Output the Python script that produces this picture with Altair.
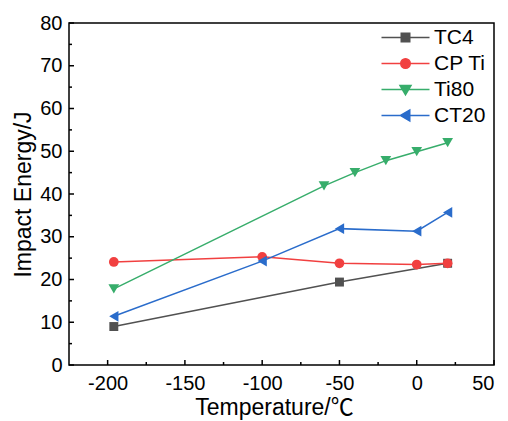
import altair as alt
import pandas as pd

# ---------------- data ----------------
series_names = ["TC4", "CP Ti", "Ti80", "CT20"]
series_colors = ["#515151", "#F14040", "#37AD6B", "#2A6CCB"]
series_shapes = ["square", "circle", "triangle-down", "triangle-left"]
series_sizes = [80, 95, 115, 115]

tc4_temp = [-196, -50, 20]
tc4_energy = [9.0, 19.4, 23.8]

cpti_temp = [-196, -100, -50, 0, 20]
cpti_energy = [24.1, 25.3, 23.8, 23.5, 23.8]

ti80_temp = [-196, -60, -40, -20, 0, 20]
ti80_energy = [17.8, 41.9, 45.0, 47.8, 49.9, 52.0]

ct20_temp = [-196, -100, -50, 0, 20]
ct20_energy = [11.4, 24.3, 31.9, 31.3, 35.7]

x_major_ticks = [-200, -150, -100, -50, 0, 50]
x_minor_ticks = [-175, -125, -75, -25, 25]
y_major_ticks = [0, 10, 20, 30, 40, 50, 60, 70, 80]
y_minor_ticks = [5, 15, 25, 35, 45, 55, 65, 75]

x_title = "Temperature/℃"
y_title = "Impact Energy/J"

# legend glyphs: a horizontal line with the marker in its middle
# (symbol size 100 -> 1 path unit = 5 px)
legend_paths = [
    "M-4.8,0H4.8M-0.85,-0.85H0.85V0.85H-0.85Z",
    "M-4.8,0H4.8M-0.95,0A0.95,0.95,0,1,1,0.95,0A0.95,0.95,0,1,1,-0.95,0Z",
    "M-4.8,0H4.8M-1.1,-0.8H1.1L0,1.05Z",
    "M-4.8,0H4.8M-1.0,0L0.85,-1.1V1.1Z",
]

rows = []
for name, ts, es in zip(series_names,
                        [tc4_temp, cpti_temp, ti80_temp, ct20_temp],
                        [tc4_energy, cpti_energy, ti80_energy, ct20_energy]):
    for t, e in zip(ts, es):
        rows.append({"series": name, "T": t, "E": e})
df = pd.DataFrame(rows)

# ---------------- chart ----------------
W, H = 425, 342
FONT = "Liberation Sans, Arial, 'Noto Sans CJK SC'"

xscale = alt.Scale(domain=[-225, 50], nice=False, zero=False)
yscale = alt.Scale(domain=[0, 80], nice=False, zero=False)
color_scale = alt.Scale(range=series_colors)

x_axis = alt.Axis(values=x_major_ticks, ticks=False, grid=False, domain=False,
                  labelPadding=8, titlePadding=3, labelExpr="'' + datum.value",
                  titleFontSize=23, titleX=205)
y_axis = alt.Axis(values=y_major_ticks, ticks=False, grid=False, domain=False,
                  labelPadding=7, titlePadding=4, labelExpr="'' + datum.value",
                  titleFontSize=23)

X = lambda f: alt.X(f, scale=xscale, axis=x_axis, title=x_title)
Y = lambda f: alt.Y(f, scale=yscale, axis=y_axis, title=y_title)
C = alt.Color("series:N", sort=series_names, scale=color_scale, legend=None)

base = alt.Chart(df)

lines = base.mark_line(strokeWidth=1.5).encode(
    x=X("T:Q"), y=Y("E:Q"), color=C, detail="series:N",
)

point_layers = []
for name, shp, sz in zip(series_names, series_shapes, series_sizes):
    point_layers.append(
        base.transform_filter(alt.datum.series == name)
        .mark_point(filled=True, opacity=1, size=sz, shape=shp)
        .encode(x=X("T:Q"), y=Y("E:Q"), color=C)
    )

leg_props = dict(title=None, orient="none", legendX=326, legendY=4,
                 symbolSize=100, symbolStrokeWidth=1.5, labelFont=FONT,
                 labelFontSize=21, labelColor="black", labelOffset=18,
                 rowPadding=4)

legend_layer = base.transform_filter("false").mark_point(
    filled=True, opacity=1, size=100, strokeWidth=1.5
).encode(
    x=X("T:Q"), y=Y("E:Q"),
    fill=alt.Fill("series:N", scale=alt.Scale(domain=series_names, range=series_colors),
                  legend=alt.Legend(**leg_props)),
    stroke=alt.Stroke("series:N", scale=alt.Scale(domain=series_names, range=series_colors),
                      legend=alt.Legend(**leg_props)),
    shape=alt.Shape("series:N", scale=alt.Scale(domain=series_names, range=legend_paths),
                    legend=alt.Legend(**leg_props)),
)

def xticks(vals, length):
    return alt.Chart(pd.DataFrame({"t": vals})).mark_rule(color="black", strokeWidth=1.5).encode(
        x=X("t:Q"), y=alt.value(H), y2=alt.value(H - length),
    )

def yticks(vals, length):
    return alt.Chart(pd.DataFrame({"t": vals})).mark_rule(color="black", strokeWidth=1.5).encode(
        y=Y("t:Q"), x=alt.value(0), x2=alt.value(length),
    )

chart = alt.layer(
    lines, *point_layers, legend_layer,
    xticks(x_major_ticks, 5), xticks(x_minor_ticks, 3),
    yticks(y_major_ticks, 5), yticks(y_minor_ticks, 3),
).properties(
    width=W, height=H,
    autosize=alt.AutoSizeParams(type="none"),
    padding={"left": 69, "top": 23, "right": 14, "bottom": 56},
    background="white",
).configure_view(
    stroke="black", strokeWidth=1.5
).configure_axis(
    labelFont=FONT, labelFontSize=20, labelColor="black",
    titleFont=FONT, titleFontWeight="normal", titleColor="black",
)

chart.save("out.html", embed_options={"renderer": "svg", "actions": False})
